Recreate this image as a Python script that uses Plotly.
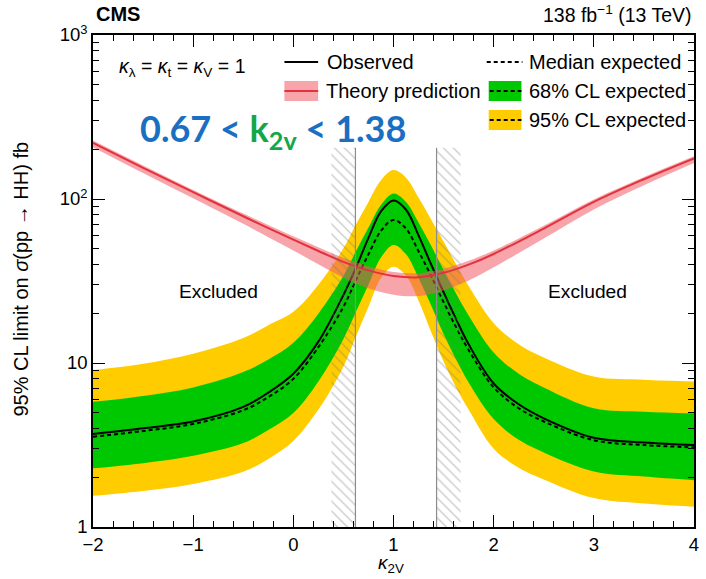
import plotly.graph_objects as go

# ---------------- data ----------------
kappa = [-2, -1.5, -1, -0.5, -0.25, 0, 0.25, 0.5, 0.625, 0.75, 0.875, 1,
         1.125, 1.25, 1.375, 1.5, 1.625, 1.75, 2, 2.25, 2.5, 3, 3.5, 4]
observed = [3.69, 4.0, 4.4, 5.4, 6.6, 8.6, 13.5, 26, 38, 58, 84, 98,
            86, 60, 40, 27, 18.5, 13, 7.5, 5.6, 4.6, 3.5, 3.28, 3.16]
expected = [3.55, 3.85, 4.25, 5.15, 6.2, 8.0, 12.5, 22, 32, 46, 64, 74.5,
            66, 48, 34, 23.5, 16.5, 12, 7.1, 5.3, 4.4, 3.38, 3.16, 3.06]
band68_up = [5.8, 6.3, 7.1, 8.8, 10.5, 13.3, 20, 34, 48, 67, 92, 108,
             96, 72, 52, 37, 26.5, 19.5, 11.6, 8.6, 7.1, 5.3, 5.05, 4.94]
band68_lo = [2.28, 2.45, 2.72, 3.25, 3.9, 4.95, 7.7, 14, 20.5, 30, 44, 52.5,
             46, 33, 22.5, 15, 10.5, 7.6, 4.55, 3.4, 2.85, 2.18, 2.03, 1.93]
band95_up = [9.06, 9.9, 11.4, 14.2, 17, 20.5, 30, 50, 70, 96, 130, 150,
             135, 102, 75, 55, 40, 29.5, 17.5, 13, 10.8, 8.26, 7.9, 7.7]
band95_lo = [1.55, 1.66, 1.83, 2.17, 2.6, 3.35, 5.2, 9.5, 14.5, 22, 33, 38.6,
             34, 24, 15.5, 10.2, 7.1, 5.2, 3.0, 2.3, 1.95, 1.50, 1.39, 1.33]

kappa_th = [-2, -1.5, -1, -0.5, -0.25, 0, 0.25, 0.5, 0.75, 1, 1.25, 1.5,
            1.75, 2, 2.5, 3, 3.5, 4]
theory = [220, 155, 110, 78.5, 66.5, 56.5, 48.2, 41.4, 36.7, 33.9, 33.3, 35.5,
          39.8, 46.2, 66, 96, 132, 177]
theory_up = [227, 160, 113.5, 81.5, 69.5, 59.3, 50.8, 43.8, 38.9, 35.9, 35.3, 37.6,
             42, 48.5, 68.7, 99.2, 136, 182]
theory_lo = [207, 144, 101, 70.6, 58.5, 48.6, 40, 33.1, 28.6, 26.1, 25.6, 27.7,
             31.8, 38.3, 57.4, 86.4, 121.5, 166]

excl_left = 0.62      # inner edge of left excluded region
excl_right = 1.43     # inner edge of right excluded region
hatch_width = 0.24
hatch_top = 205

x_ticks = [-2, -1, 0, 1, 2, 3, 4]
y_ticks = [1, 10, 100, 1000]
y_ticktext = ["1", "10", "10<sup>2</sup>", "10<sup>3</sup>"]

# ---------------- styling ----------------
GREEN = "#00c800"
YELLOW = "#ffcc00"
RED = "#e4323c"
PINK = "rgba(240,90,100,0.55)"
FONT = "Liberation Sans, Arial, Helvetica, sans-serif"

W, H = 706, 579
L, R, T, B = 93, 7, 35, 52
PW, PH = W - L - R, H - T - B


def px(xp):
    return (xp - L) / PW


def py(yp):
    return (H - B - yp) / PH


fig = go.Figure()

def band(lo, up, color):
    fig.add_trace(go.Scatter(x=kappa, y=lo, mode="lines", line=dict(width=0, shape="spline"),
                             hoverinfo="skip"))
    fig.add_trace(go.Scatter(x=kappa, y=up, mode="lines", line=dict(width=0, shape="spline"),
                             fill="tonexty", fillcolor=color, hoverinfo="skip"))

band(band95_lo, band95_up, YELLOW)
band(band68_lo, band68_up, GREEN)

fig.add_trace(go.Scatter(x=kappa, y=expected, mode="lines",
                         line=dict(color="black", width=2, dash="4px,3px", shape="spline")))
fig.add_trace(go.Scatter(x=kappa, y=observed, mode="lines",
                         line=dict(color="black", width=2, shape="spline")))

# theory band
fig.add_trace(go.Scatter(x=kappa_th, y=theory_lo, mode="lines",
                         line=dict(width=0, shape="spline"), hoverinfo="skip"))
fig.add_trace(go.Scatter(x=kappa_th, y=theory_up, mode="lines",
                         line=dict(width=0, shape="spline"), fill="tonexty",
                         fillcolor=PINK, hoverinfo="skip"))
fig.add_trace(go.Scatter(x=kappa_th, y=theory, mode="lines",
                         line=dict(color=RED, width=2, shape="spline")))

# hatched excluded-boundary regions
for x_in, x_out in [(excl_left, excl_left - hatch_width), (excl_right, excl_right + hatch_width)]:
    fig.add_trace(go.Scatter(x=[x_out, x_in, x_in, x_out, x_out], y=[1, 1, hatch_top, hatch_top, 1],
                             mode="lines", line=dict(width=0), fill="toself",
                             fillcolor="rgba(0,0,0,0)",
                             fillpattern=dict(shape="\\", fgcolor="#7a7a7a", size=7, solidity=0.16),
                             hoverinfo="skip"))
    fig.add_trace(go.Scatter(x=[x_in, x_in], y=[1, hatch_top], mode="lines",
                             line=dict(color="#8c8c8c", width=1.2), hoverinfo="skip"))

axis_common = dict(showgrid=False, zeroline=False, showline=True, linecolor="black", linewidth=1.5,
                   ticks="inside", ticklen=12, tickwidth=1.3, tickcolor="black", mirror="allticks",
                   tickfont=dict(family=FONT, size=18.5, color="black"))

fig.update_xaxes(range=[-2, 4], tickvals=x_ticks,
                 minor=dict(ticks="inside", ticklen=6, tickwidth=1.2, tickcolor="black",
                            dtick=0.2, tick0=-2, showgrid=False),
                 **axis_common)
minor_y = [m * d for d in (1, 10, 100) for m in range(2, 10)]
fig.update_yaxes(type="log", range=[0, 3], tickvals=y_ticks, ticktext=y_ticktext,
                 minor=dict(ticks="inside", ticklen=6, tickwidth=1.2, tickcolor="black",
                            tickvals=minor_y, showgrid=False),
                 **axis_common)

ann = []
def text(x, y, s, size=20, anchor="left", **kw):
    ann.append(dict(x=px(x), y=py(y), xref="paper", yref="paper", text=s, showarrow=False,
                    xanchor=anchor, yanchor="middle",
                    font=dict(family=FONT, size=size, color=kw.pop("color", "black")), **kw))

text(94, 14, "<b>CMS</b>", size=20)
text(699, 14, "138 fb<sup>−1</sup> (13 TeV)", size=19.5, anchor="right")
text(117, 67, "<i>κ</i><sub>λ</sub> = <i>κ</i><sub>t</sub> = <i>κ</i><sub>V</sub> = 1", size=19.5)
text(327, 62, "Observed")
text(326, 91, "Theory prediction")
text(531, 62, "Median expected")
text(531, 91, "68% CL expected")
text(531, 120, "95% CL expected")
text(220, 291, "Excluded", size=19.2, anchor="center")
text(592, 291, "Excluded", size=19.2, anchor="center")
text(393, 564, "<i>κ</i><sub>2V</sub>", size=19, anchor="center")
ann.append(dict(x=px(20), y=py(279), xref="paper", yref="paper",
                text="95% CL limit on <i>σ</i>(pp → HH) fb", showarrow=False, textangle=-90,
                xanchor="center", yanchor="middle", font=dict(family=FONT, size=20, color="black")))
ann.append(dict(x=px(275), y=py(130), xref="paper", yref="paper",
                text="<b>0.67 &lt; <span style='color:#12a84a'>k<sub>2v</sub></span> &lt; 1.38</b>",
                showarrow=False, xanchor="center", yanchor="middle",
                font=dict(family="Lato, Open Sans, sans-serif", size=36, color="#1a6fc2")))

shapes = []
def rect(x0, y0, x1, y1, color):
    shapes.append(dict(type="rect", xref="paper", yref="paper", x0=px(x0), x1=px(x1),
                       y0=py(y0), y1=py(y1), fillcolor=color, line=dict(width=0)))
def hline(x0, x1, y, color, dash=None, width=2):
    shapes.append(dict(type="line", xref="paper", yref="paper", x0=px(x0), x1=px(x1),
                       y0=py(y), y1=py(y), line=dict(color=color, width=width, dash=dash)))

hline(286, 320, 62, "black")
rect(286, 81, 320, 101, PINK)
hline(286, 320, 91, RED)
hline(490, 526, 62, "black", dash="4px,3px")
rect(492, 81, 525, 101, GREEN)
hline(493, 525, 91, "black", dash="4px,3px")
rect(492, 110, 525, 130, YELLOW)
hline(493, 525, 120, "black", dash="4px,3px")

fig.update_layout(width=W, height=H, margin=dict(l=L, r=R, t=T, b=B),
                  paper_bgcolor="white", plot_bgcolor="white", showlegend=False,
                  annotations=ann, shapes=shapes)

fig.write_html("out.html")
